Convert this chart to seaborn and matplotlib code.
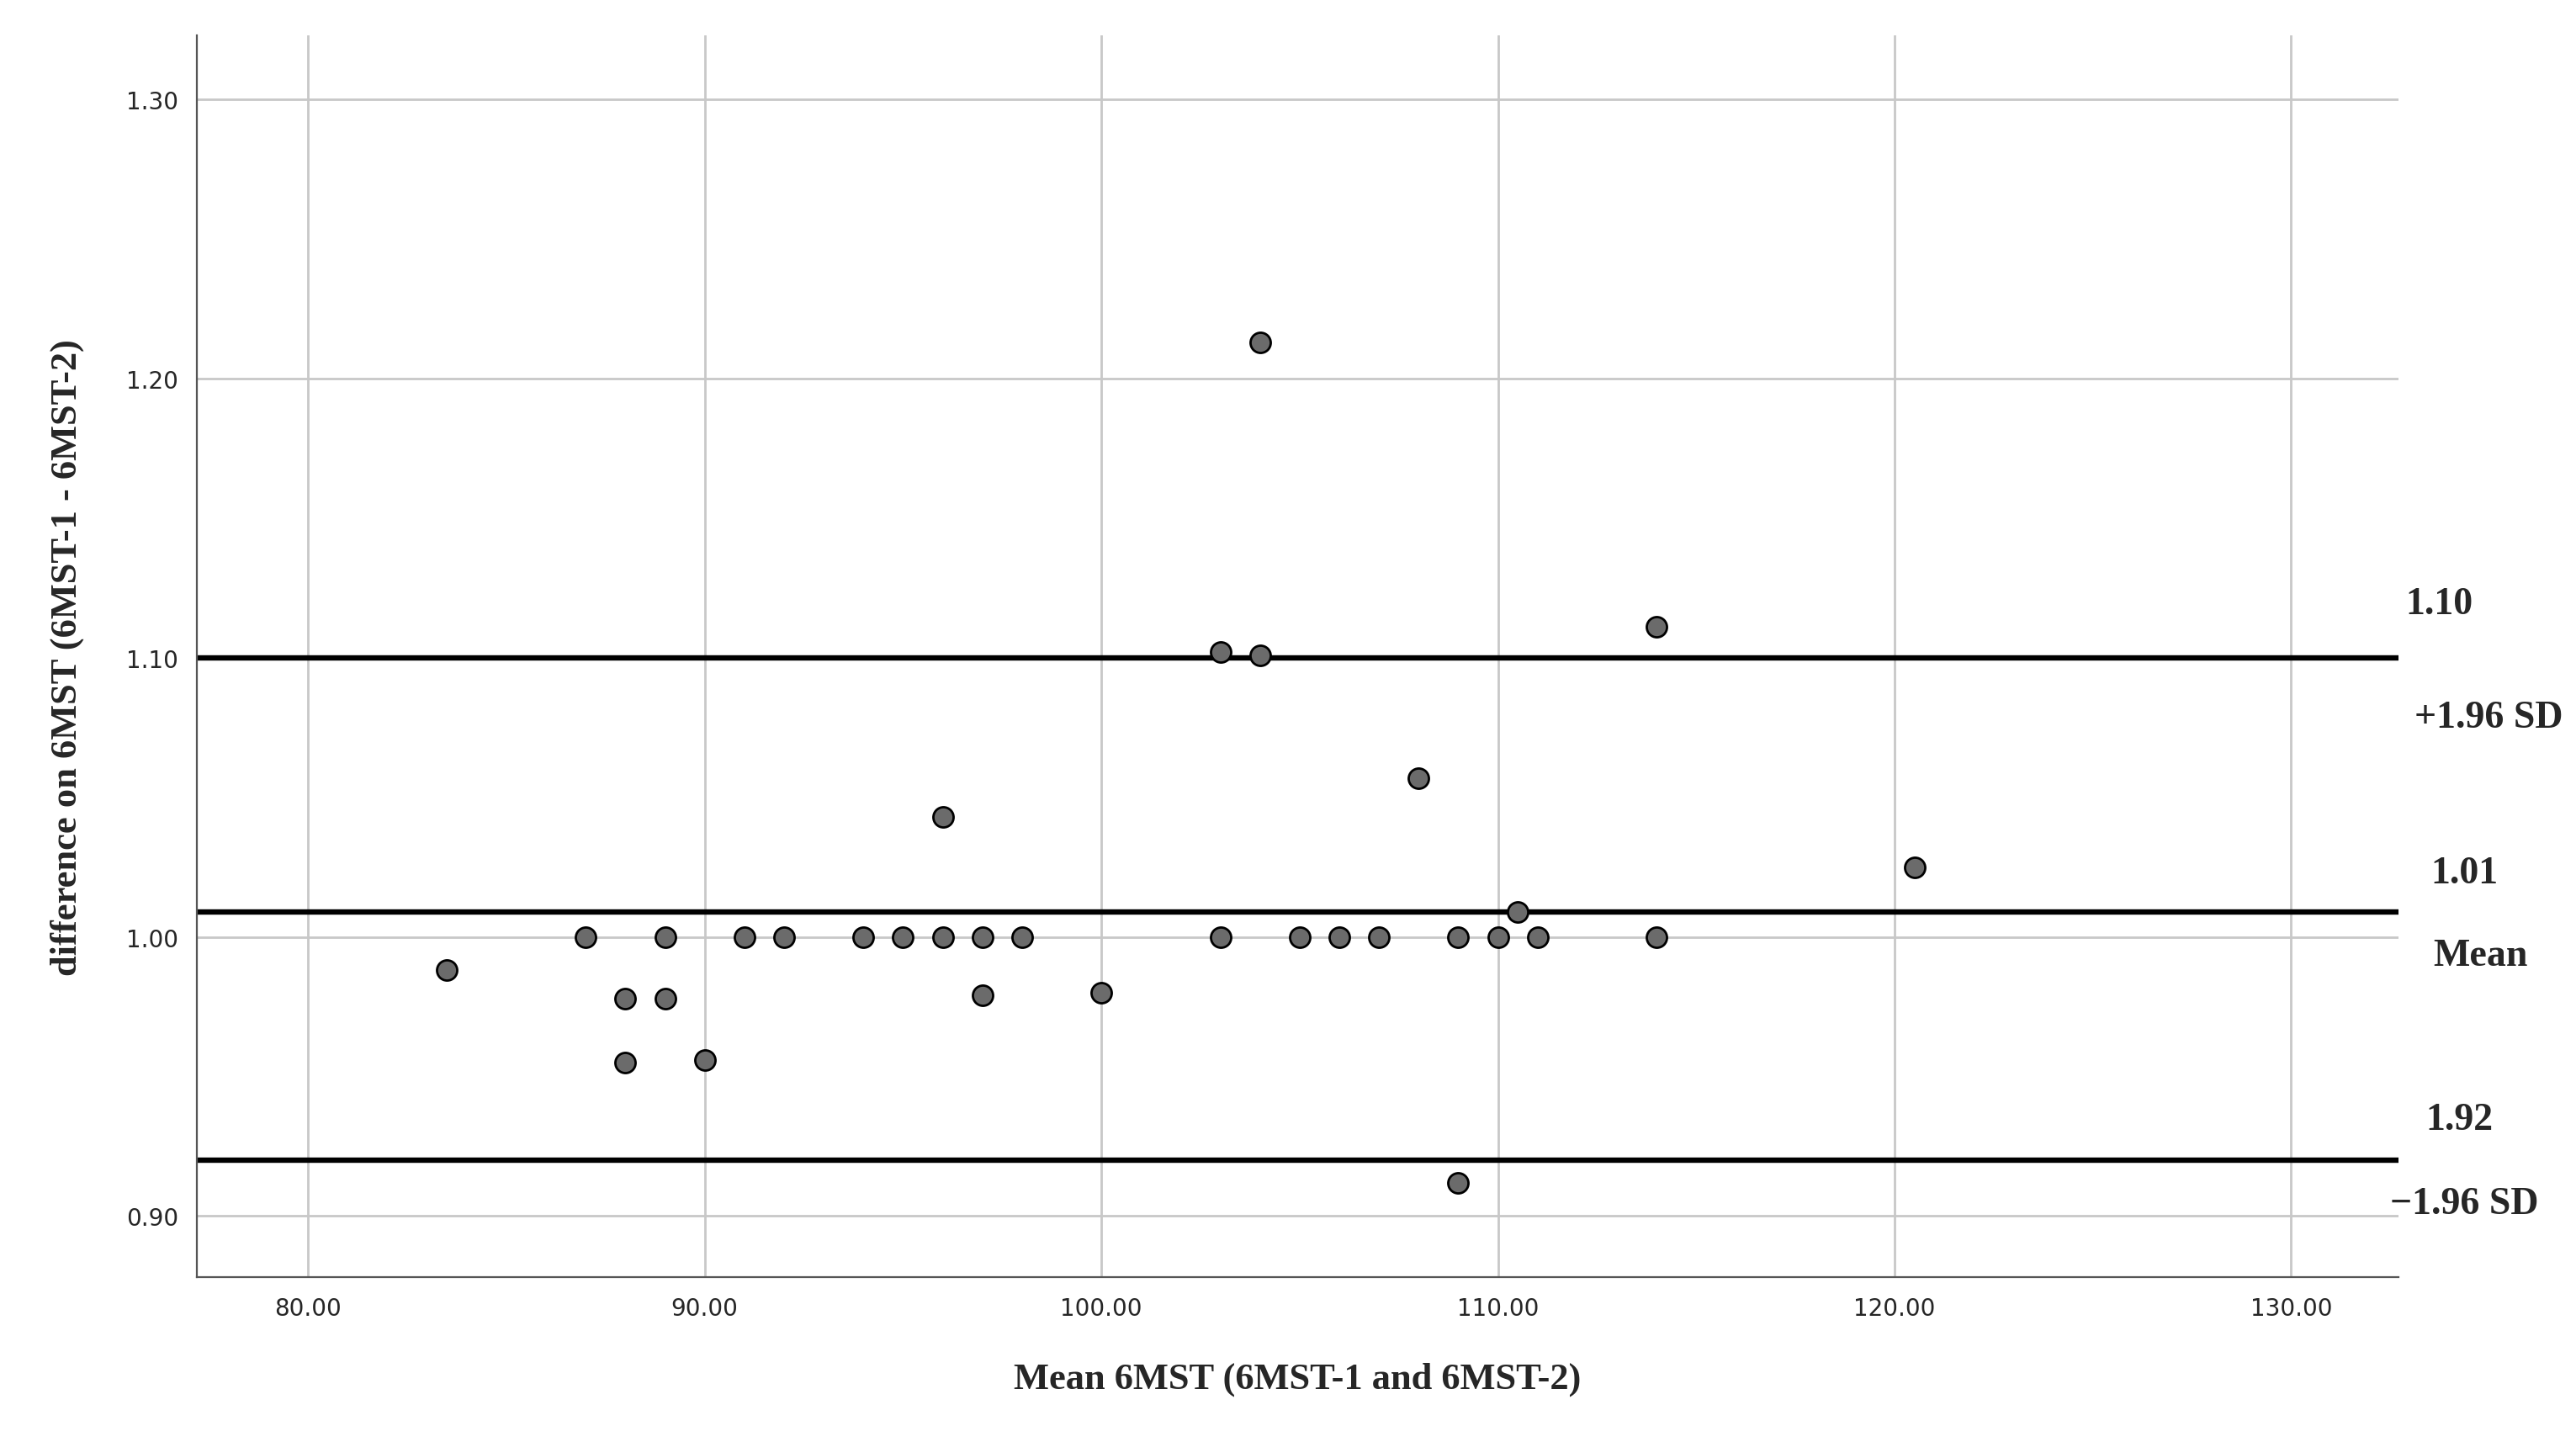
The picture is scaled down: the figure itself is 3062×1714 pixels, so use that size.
import numpy as np
import pandas as pd
import matplotlib
matplotlib.use("Agg")
import matplotlib.pyplot as plt
import seaborn as sns

# --- data ---
mean_6mst = [83.5, 87, 88, 88, 89, 89, 90, 91, 92, 94, 95, 96, 96, 97, 97, 98,
             100, 103, 103, 104, 104, 105, 106, 107, 108, 109, 109, 110, 110.5,
             111, 114, 114, 120.5]
diff_6mst = [0.988, 1.00, 0.978, 0.955, 1.00, 0.978, 0.956, 1.00, 1.00, 1.00, 1.00,
             1.00, 1.043, 1.00, 0.979, 1.00, 0.980, 1.102, 1.00, 1.213, 1.101, 1.00,
             1.00, 1.00, 1.057, 1.00, 0.912, 1.00, 1.009, 1.00, 1.111, 1.00, 1.025]
upper_loa = 1.10
mean_diff = 1.009
lower_loa = 0.92
x_ticks = [80, 90, 100, 110, 120, 130]
y_ticks = [0.90, 1.00, 1.10, 1.20, 1.30]

df = pd.DataFrame({"mean": mean_6mst, "diff": diff_6mst})

sns.set_style("white")
serif = ["Liberation Serif", "DejaVu Serif"]

fig = plt.figure(figsize=(15.31, 8.575), dpi=200)
ax = fig.add_axes([0.0765, 0.114, 0.8545, 0.861])

ax.grid(True, color="#c8c8c8", linewidth=1.0)
ax.set_axisbelow(True)

sns.scatterplot(data=df, x="mean", y="diff", ax=ax, s=75, color="#6b6b6b",
                edgecolor="black", linewidth=1.0, zorder=3)

for yv in (upper_loa, mean_diff, lower_loa):
    ax.axhline(yv, color="black", linewidth=2.3, zorder=2)

ax.set_xlim(77.2, 132.7)
ax.set_ylim(0.878, 1.323)
ax.set_xticks(x_ticks)
ax.set_xticklabels([f"{v:.2f}" for v in x_ticks])
ax.set_yticks(y_ticks)
ax.set_yticklabels([f"{v:.2f}" for v in y_ticks])
ax.tick_params(labelsize=10, length=0, pad=8)

for s in ("top", "right"):
    ax.spines[s].set_visible(False)
for s in ("left", "bottom"):
    ax.spines[s].set_color("#555555")

ax.set_xlabel("Mean 6MST (6MST-1 and 6MST-2)", fontsize=16, fontweight="bold",
              family=serif, labelpad=18)
ax.set_ylabel("difference on 6MST (6MST-1 - 6MST-2)", fontsize=16, fontweight="bold",
              family=serif, labelpad=18)

# annotations to the right of the plot
labels = [
    (1485, 368, "1.10"), (1515, 437, "+1.96 SD"),
    (1500, 532, "1.01"), (1510, 582, "Mean"),
    (1497, 682, "1.92"), (1500, 733, "\u22121.96 SD"),
]
for px, py, txt in labels:
    fig.text(px / 1568, 1 - py / 878, txt, fontsize=16.5, fontweight="bold",
             family=serif, ha="center", va="center")

fig.savefig("out.png", dpi=200)
